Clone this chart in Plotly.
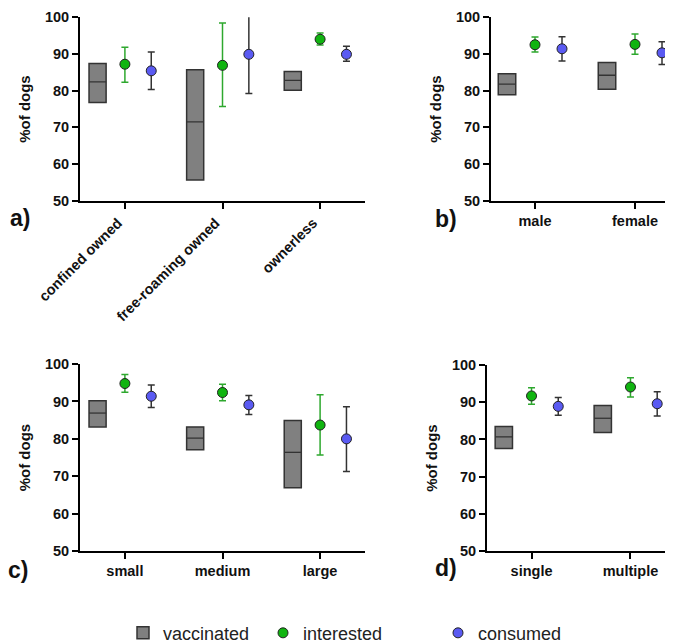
import plotly.graph_objects as go

# ---------------- data ----------------
cats_a = ["confined owned", "free-roaming owned", "ownerless"]
vac_low_a = [76.8, 55.7, 80.1]
vac_high_a = [87.4, 85.7, 85.2]
vac_med_a = [82.4, 71.5, 82.8]
int_a = [87.2, 86.9, 94.0]
int_hi_a = [91.8, 98.4, 95.7]
int_lo_a = [82.3, 75.7, 92.4]
con_a = [85.4, 89.9, 89.9]
con_hi_a = [90.5, 100.7, 92.1]
con_lo_a = [80.3, 79.2, 88.0]

cats_b = ["male", "female"]
vac_low_b = [78.9, 80.4]
vac_high_b = [84.6, 87.7]
vac_med_b = [81.8, 84.2]
int_b = [92.5, 92.6]
int_hi_b = [94.6, 95.4]
int_lo_b = [90.5, 89.9]
con_b = [91.4, 90.3]
con_hi_b = [94.7, 93.3]
con_lo_b = [88.1, 87.1]

cats_c = ["small", "medium", "large"]
vac_low_c = [83.2, 77.1, 66.9]
vac_high_c = [90.2, 83.2, 84.9]
vac_med_c = [86.9, 80.2, 76.4]
int_c = [94.8, 92.4, 83.7]
int_hi_c = [97.2, 94.6, 91.8]
int_lo_c = [92.5, 90.2, 75.7]
con_c = [91.4, 89.1, 80.0]
con_hi_c = [94.4, 91.6, 88.6]
con_lo_c = [88.4, 86.5, 71.3]

cats_d = ["single", "multiple"]
vac_low_d = [77.6, 81.9]
vac_high_d = [83.5, 89.1]
vac_med_d = [80.7, 85.7]
int_d = [91.7, 94.1]
int_hi_d = [93.9, 96.6]
int_lo_d = [89.5, 91.4]
con_d = [88.9, 89.6]
con_hi_d = [91.3, 92.8]
con_lo_d = [86.5, 86.3]

y_ticks = [50, 60, 70, 80, 90, 100]
series_names = ["vaccinated", "interested", "consumed"]
panel_letters = ["a)", "b)", "c)", "d)"]

# ---------------- style ----------------
W, H = 673, 644
BOX_OFF, CON_OFF, BOX_W = -0.28, 0.27, 0.175
GRAY, EDGE = "#808080", "#333333"
GREEN, GREEN_ERR = "#10b410", "#2ea82e"
BLUE, BLUE_ERR = "#5a5af2", "#333333"
FONT = "Liberation Sans, Arial, sans-serif"

panels = [
    dict(cats=cats_a, vl=vac_low_a, vh=vac_high_a, vm=vac_med_a, i=int_a, ih=int_hi_a, il=int_lo_a,
         c=con_a, ch=con_hi_a, cl=con_lo_a, xd=(72, 357), yd=(9.3, 195), rng=(-0.46, 2.46), angle=-45, shift=-7),
    dict(cats=cats_b, vl=vac_low_b, vh=vac_high_b, vm=vac_med_b, i=int_b, ih=int_hi_b, il=int_lo_b,
         c=con_b, ch=con_hi_b, cl=con_lo_b, xd=(483, 672), yd=(9.3, 195), rng=(-0.44, 1.45), angle=0, shift=0),
    dict(cats=cats_c, vl=vac_low_c, vh=vac_high_c, vm=vac_med_c, i=int_c, ih=int_hi_c, il=int_lo_c,
         c=con_c, ch=con_hi_c, cl=con_lo_c, xd=(72, 357), yd=(360, 549), rng=(-0.46, 2.46), angle=0, shift=0),
    dict(cats=cats_d, vl=vac_low_d, vh=vac_high_d, vm=vac_med_d, i=int_d, ih=int_hi_d, il=int_lo_d,
         c=con_d, ch=con_hi_d, cl=con_lo_d, xd=(479, 668), yd=(361, 549), rng=(-0.45, 1.46), angle=0, shift=0),
]
letter_pos = [(12, 212), (438, 213), (10, 568), (438, 566)]
legend_x = [115, 255, 430]

fig = go.Figure()
layout = {}
for k, p in enumerate(panels):
    sfx = "" if k == 0 else str(k + 1)
    xa, ya = "x" + sfx, "y" + sfx
    n = len(p["cats"])
    pos = list(range(n))
    # boxes (vaccinated)
    fig.add_trace(go.Bar(
        x=[q + BOX_OFF for q in pos], y=[h - l for h, l in zip(p["vh"], p["vl"])], base=p["vl"],
        width=BOX_W, marker=dict(color=GRAY, line=dict(color=EDGE, width=1.5)),
        name=series_names[0], showlegend=(k == 0), legend="legend",
        xaxis=xa, yaxis=ya, hoverinfo="skip"))
    # medians
    mx, my = [], []
    for q, m in zip(pos, p["vm"]):
        mx += [q + BOX_OFF - BOX_W / 2, q + BOX_OFF + BOX_W / 2, None]
        my += [m, m, None]
    fig.add_trace(go.Scatter(x=mx, y=my, mode="lines", line=dict(color=EDGE, width=1.3),
                             showlegend=False, xaxis=xa, yaxis=ya, hoverinfo="skip"))
    # interested
    fig.add_trace(go.Scatter(
        x=pos, y=p["i"], mode="markers", name=series_names[1], showlegend=(k == 0), legend="legend2",
        marker=dict(color=GREEN, size=10, line=dict(color="#222222", width=1)),
        error_y=dict(type="data", symmetric=False,
                     array=[h - v for h, v in zip(p["ih"], p["i"])],
                     arrayminus=[v - l for v, l in zip(p["i"], p["il"])],
                     color=GREEN_ERR, thickness=1.5, width=3.5),
        xaxis=xa, yaxis=ya, hoverinfo="skip"))
    # consumed
    fig.add_trace(go.Scatter(
        x=[q + CON_OFF for q in pos], y=p["c"], mode="markers", name=series_names[2], showlegend=(k == 0),
        legend="legend3",
        marker=dict(color=BLUE, size=10, line=dict(color="#222222", width=1)),
        error_y=dict(type="data", symmetric=False,
                     array=[h - v for h, v in zip(p["ch"], p["c"])],
                     arrayminus=[v - l for v, l in zip(p["c"], p["cl"])],
                     color=BLUE_ERR, thickness=1.5, width=3.5),
        xaxis=xa, yaxis=ya, hoverinfo="skip"))

    layout["xaxis" + sfx] = dict(
        domain=[p["xd"][0] / W, p["xd"][1] / W], anchor=ya, range=list(p["rng"]),
        tickmode="array", tickvals=pos, ticktext=p["cats"], tickangle=p["angle"],
        ticklabelshift=p["shift"],
        showline=True, linecolor="black", linewidth=2, ticks="outside", ticklen=6, tickwidth=2,
        tickcolor="black", showgrid=False, zeroline=False, automargin=False,
        tickfont=dict(family=FONT, size=14.5, color="#111111", weight="bold"))
    layout["yaxis" + sfx] = dict(
        domain=[1 - p["yd"][1] / H, 1 - p["yd"][0] / H], anchor=xa, range=[50, 100],
        tickmode="array", tickvals=y_ticks,
        showline=True, linecolor="black", linewidth=2, ticks="outside", ticklen=6, tickwidth=2,
        tickcolor="black", showgrid=False, zeroline=False, automargin=False,
        tickfont=dict(family=FONT, size=14.5, color="#111111", weight="bold"),
        title=dict(text="%of dogs", standoff=11,
                   font=dict(family=FONT, size=15, color="#111111", weight="bold")))

annotations = []
for lt, (lx, ly) in zip(panel_letters, letter_pos):
    annotations.append(dict(text=lt, x=lx / W, y=1 - ly / H, xref="paper", yref="paper",
                            showarrow=False, xanchor="center", yanchor="middle",
                            font=dict(family=FONT, size=23, color="#111111", weight="bold")))

legends = {}
for j, lx in enumerate(legend_x):
    key = "legend" if j == 0 else "legend" + str(j + 1)
    legends[key] = dict(orientation="h", x=lx / W, y=1 - 632 / H, xanchor="left", yanchor="middle",
                        font=dict(family=FONT, size=18, color="#222222"), itemwidth=30,
                        bgcolor="rgba(0,0,0,0)")

fig.update_layout(
    width=W, height=H, margin=dict(l=0, r=0, t=0, b=0),
    plot_bgcolor="white", paper_bgcolor="white", barmode="overlay",
    annotations=annotations, **legends, **layout)

fig.write_html("out.html")
